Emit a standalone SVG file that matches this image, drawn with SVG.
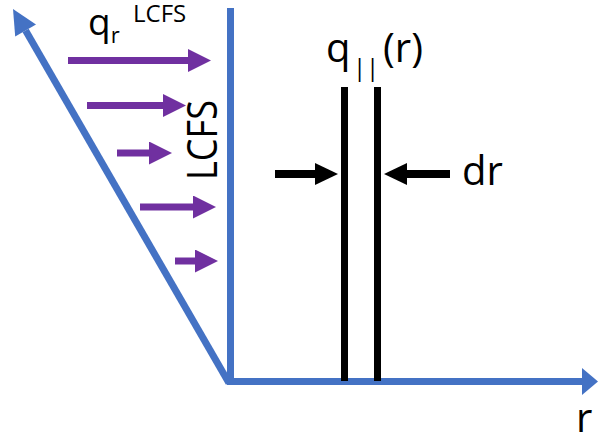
<svg xmlns="http://www.w3.org/2000/svg" width="598" height="440" viewBox="0 0 598 440">
<style>
.ax{stroke:#4472C4;stroke-width:7;fill:none}
.axh{fill:#4472C4}
.bl{stroke:#000;stroke-width:7;fill:none}
.blh{fill:#000}
.pu{stroke:#7030A0;stroke-width:7;fill:none;marker-end:url(#ph)}
.t{font-family:"Open Sans","Liberation Sans",sans-serif;fill:#000}
</style>
<defs>
<marker id="ph" markerUnits="userSpaceOnUse" markerWidth="23" markerHeight="23" refX="0" refY="11.5" orient="auto" viewBox="0 0 23 23">
<path d="M0,0 L23,11.5 L0,23 z" fill="#7030A0"/>
</marker>
</defs>
<rect width="598" height="440" fill="#fff"/>
<g id="axes">
<line class="ax" x1="25.6" y1="30.6" x2="229" y2="383"/>
<polygon class="axh" points="13,9 36,24.6 15.2,36.6"/>
<line class="ax" x1="230.5" y1="8" x2="230.5" y2="385"/>
<line class="ax" x1="227" y1="381.5" x2="583" y2="381.5"/>
<polygon class="axh" points="582,368 598,381.5 582,395"/>
</g>
<g id="channel">
<line class="bl" x1="344.5" y1="87" x2="344.5" y2="381"/>
<line class="bl" x1="377.5" y1="87" x2="377.5" y2="381"/>
</g>
<g id="connectors">
<line class="pu" x1="68" y1="60.5" x2="188" y2="60.5"/>
<line class="pu" x1="87" y1="105.5" x2="163" y2="105.5"/>
<line class="pu" x1="117" y1="153" x2="149" y2="153"/>
<line class="pu" x1="140" y1="207" x2="193" y2="207"/>
<line class="pu" x1="175" y1="261" x2="195" y2="261"/>
<line class="bl" x1="275" y1="174" x2="316" y2="174" style="stroke-width:8"/>
<polygon class="blh" points="315,163 338,174 315,185"/>
<line class="bl" x1="406" y1="174" x2="450" y2="174" style="stroke-width:8"/>
<polygon class="blh" points="407,163 384,174 407,185"/>
</g>
<g id="labels">
<text class="t" x="88" y="35" font-size="37">q<tspan font-size="22" y="43">r</tspan><tspan font-size="24" x="133" y="22">LCFS</tspan></text>
<text class="t" font-size="42" textLength="80" lengthAdjust="spacingAndGlyphs" transform="translate(217,180) rotate(-90)">LCFS</text>
<text class="t" x="326" y="62" font-size="40">q<tspan font-size="24" x="353 366" y="76">||</tspan><tspan x="383" y="62">(r)</tspan></text>
<text class="t" x="462" y="185" font-size="40">dr</text>
<text class="t" x="576" y="432" font-size="40">r</text>
</g>
</svg>
